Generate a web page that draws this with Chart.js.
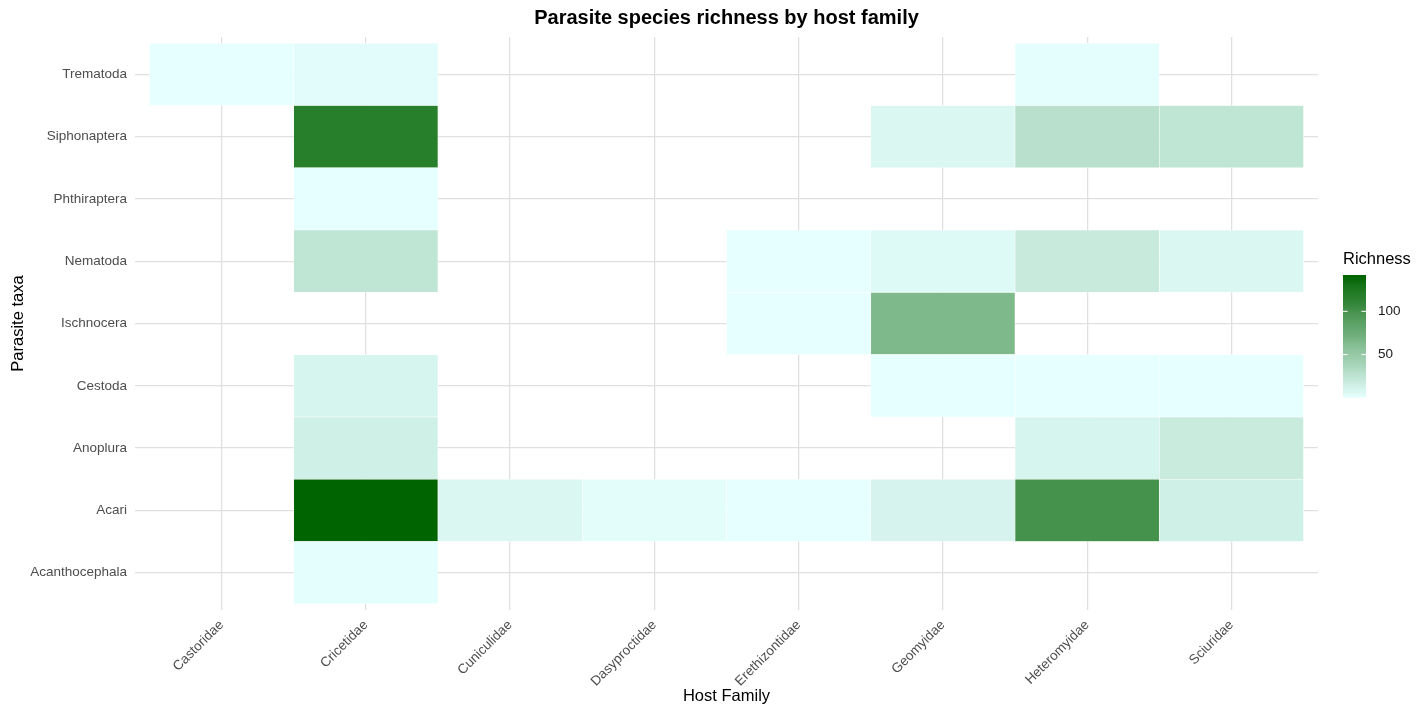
<!DOCTYPE html>
<html>
<head>
<meta charset="utf-8">
<title>Parasite species richness by host family</title>
<script src="https://cdn.jsdelivr.net/npm/chart.js@4.4.1/dist/chart.umd.min.js"></script>
<style>
  html, body { margin: 0; padding: 0; background: #ffffff; }
  canvas { display: block; }
</style>
</head>
<body>
<canvas id="heatmap" width="1424" height="708"></canvas>
<script>
// Host families along the x axis
const hostFamilies = ['Castoridae', 'Cricetidae', 'Cuniculidae', 'Dasyproctidae',
  'Erethizontidae', 'Geomyidae', 'Heteromyidae', 'Sciuridae'];

// Parasite taxa along the y axis, bottom to top
const parasiteTaxa = ['Acanthocephala', 'Acari', 'Anoplura', 'Cestoda', 'Ischnocera',
  'Nematoda', 'Phthiraptera', 'Siphonaptera', 'Trematoda'];

// Species richness per host family (null = no record)
const acanthocephala = [null, 2,   null, null, null, null, null, null];
const acari          = [null, 142, 8,    3,    1,    11,   100,  15];
const anoplura       = [null, 15,  null, null, null, null, 10,   19];
const cestoda        = [null, 10,  null, null, null, 1,    1,    1];
const ischnocera     = [null, null, null, null, 1,   65,   null, null];
const nematoda       = [null, 25,  null, null, 1,    6,    20,   8];
const phthiraptera   = [null, 1,   null, null, null, null, null, null];
const siphonaptera   = [null, 118, null, null, null, 8,    29,   25];
const trematoda      = [1,    4,   null, null, null, null, 2,    null];

const richnessRows = [acanthocephala, acari, anoplura, cestoda, ischnocera,
  nematoda, phthiraptera, siphonaptera, trematoda];

// Colour bar labels
const legendTicks = [50, 100];

const lowColour = '#E6FFFF';
const highColour = '#006400';

// ---- linear RGB colour ramp ----
function hexToRgb(h) {
  const n = parseInt(h.slice(1), 16);
  return [(n >> 16) & 255, (n >> 8) & 255, n & 255];
}
const lowRgb = hexToRgb(lowColour);
const highRgb = hexToRgb(highColour);

const allValues = richnessRows.flat().filter(v => v !== null);
const minRichness = Math.min(...allValues);
const maxRichness = Math.max(...allValues);

function colourFor(v) {
  const t = Math.max(0, Math.min(1, (v - minRichness) / (maxRichness - minRichness)));
  const [r, g, b] = lowRgb.map((c, i) => Math.round(c + (highRgb[i] - c) * t));
  return `rgb(${r},${g},${b})`;
}

// ---- one floating-bar dataset per parasite taxon ----
const datasets = parasiteTaxa.map((taxon, row) => ({
  label: taxon,
  data: richnessRows[row]
    .map((v, col) => v === null ? null : { x: col, y: [row - 0.5, row + 0.5], richness: v })
    .filter(p => p !== null),
  backgroundColor: ctx => colourFor(ctx.raw.richness),
  borderColor: 'rgba(255,255,255,0.75)',
  borderWidth: 0.6,
  borderSkipped: false,
  grouped: false,
  barPercentage: 1,
  categoryPercentage: 1
}));

const FONT = '"Liberation Sans", Arial, Helvetica, sans-serif';
const GRID = '#e0e0e0';

const backgroundPlugin = {
  id: 'whiteBackground',
  beforeDraw(chart) {
    const { ctx } = chart;
    ctx.save();
    ctx.fillStyle = '#ffffff';
    ctx.fillRect(0, 0, chart.width, chart.height);
    ctx.restore();
  }
};

// Title centred over the panel, and the continuous colour bar on the right
const decorationsPlugin = {
  id: 'decorations',
  afterDraw(chart) {
    const { ctx, chartArea } = chart;
    ctx.save();
    ctx.fillStyle = '#000000';
    ctx.font = `bold 20px ${FONT}`;
    ctx.textAlign = 'center';
    ctx.textBaseline = 'middle';
    ctx.fillText('Parasite species richness by host family', (chartArea.left + chartArea.right) / 2, 18);

    const barX = chartArea.right + 25;
    const barW = 23;
    const barTop = 275;
    const barH = 122;
    ctx.font = `16.5px ${FONT}`;
    ctx.textAlign = 'left';
    ctx.textBaseline = 'middle';
    ctx.fillText('Richness', barX, 259);

    const nbin = 240;
    for (let i = 0; i < nbin; i++) {
      const v0 = minRichness + (maxRichness - minRichness) * (i / nbin);
      const y0 = barTop + barH - (barH * (i + 1) / nbin);
      ctx.fillStyle = colourFor(v0 + (maxRichness - minRichness) / nbin / 2);
      ctx.fillRect(barX, y0, barW, barH / nbin + 0.6);
    }

    ctx.font = `13.5px ${FONT}`;
    legendTicks.forEach(t => {
      const y = barTop + barH - (t - minRichness) / (maxRichness - minRichness) * barH;
      ctx.strokeStyle = '#ffffff';
      ctx.lineWidth = 1;
      ctx.beginPath();
      ctx.moveTo(barX, y); ctx.lineTo(barX + 4.6, y);
      ctx.moveTo(barX + barW - 4.6, y); ctx.lineTo(barX + barW, y);
      ctx.stroke();
      ctx.fillStyle = '#1a1a1a';
      ctx.fillText(String(t), barX + 35, y);
    });
    ctx.restore();
  }
};

new Chart(document.getElementById('heatmap'), {
  type: 'bar',
  data: { datasets },
  options: {
    responsive: false,
    animation: false,
    events: [],
    layout: { padding: { top: 37, right: 106, left: 0, bottom: 0 } },
    plugins: {
      legend: { display: false },
      tooltip: { enabled: false },
      title: { display: false }
    },
    scales: {
      x: {
        type: 'linear',
        min: -0.6,
        max: hostFamilies.length - 0.4,
        offset: false,
        afterBuildTicks: s => { s.ticks = hostFamilies.map((_, i) => ({ value: i })); },
        afterFit: s => { s.height = 98; },
        grid: { color: GRID, lineWidth: 1.3, drawTicks: false, offset: false },
        border: { display: false },
        ticks: {
          autoSkip: false,
          minRotation: 45,
          maxRotation: 45,
          padding: 7,
          color: '#4d4d4d',
          font: { family: FONT, size: 13.5 },
          callback: v => hostFamilies[v]
        },
        title: {
          display: true,
          text: 'Host Family',
          color: '#000000',
          font: { family: FONT, size: 16.5 },
          padding: { top: 0, bottom: 1.5 }
        }
      },
      y: {
        type: 'linear',
        min: -0.6,
        max: parasiteTaxa.length - 0.4,
        afterBuildTicks: s => { s.ticks = parasiteTaxa.map((_, i) => ({ value: i })); },
        afterFit: s => { s.width = 135; },
        grid: { color: GRID, lineWidth: 1.3, drawTicks: false, offset: false },
        border: { display: false },
        ticks: {
          autoSkip: false,
          padding: 8,
          color: '#4d4d4d',
          font: { family: FONT, size: 13.5 },
          callback: v => parasiteTaxa[v]
        },
        title: {
          display: true,
          text: 'Parasite taxa',
          color: '#000000',
          font: { family: FONT, size: 16.5 },
          padding: { top: 9, bottom: 0 }
        }
      }
    }
  },
  plugins: [backgroundPlugin, decorationsPlugin]
});
</script>
</body>
</html>
